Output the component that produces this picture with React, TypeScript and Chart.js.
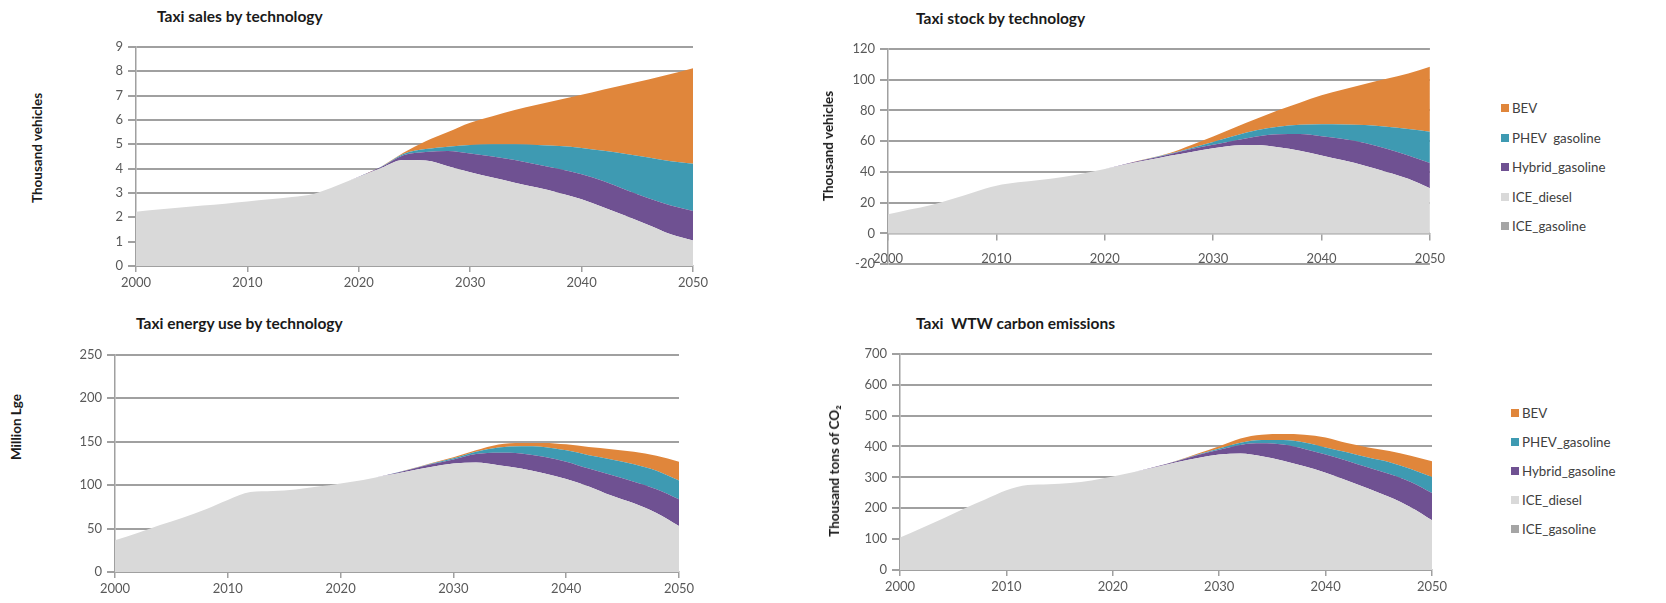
import React, { useEffect, useRef } from "react";
import { Chart, registerables } from "chart.js";

Chart.register(...registerables);

// ---------- data ----------
const years = [2000, 2002, 2004, 2006, 2008, 2010, 2012, 2014, 2016, 2018, 2020, 2022, 2024, 2026, 2028, 2030, 2032, 2034, 2036, 2038, 2040, 2042, 2044, 2046, 2048, 2050];
const xTickYears = [2000, 2010, 2020, 2030, 2040, 2050];

const seriesNames = ["ICE_gasoline", "ICE_diesel", "Hybrid_gasoline", "PHEV_gasoline", "BEV"];
const seriesColors = ["#a5a5a5", "#d9d9d9", "#6f5192", "#3e9ab2", "#e0863b"];

const iceGasoline = [0, 0, 0, 0, 0, 0, 0, 0, 0, 0, 0, 0, 0, 0, 0, 0, 0, 0, 0, 0, 0, 0, 0, 0, 0, 0];

// Taxi sales (thousand vehicles)
const salesIceDiesel = [2.23, 2.32, 2.4, 2.48, 2.56, 2.65, 2.74, 2.83, 2.97, 3.3, 3.65, 4.02, 4.35, 4.33, 4.1, 3.85, 3.63, 3.42, 3.22, 3.0, 2.74, 2.4, 2.05, 1.68, 1.3, 1.05];
const salesHybrid = [0, 0, 0, 0, 0, 0, 0, 0, 0, 0, 0.01, 0.04, 0.2, 0.35, 0.62, 0.77, 0.87, 0.93, 0.95, 0.98, 1.03, 1.08, 1.07, 1.1, 1.18, 1.21];
const salesPhev = [0, 0, 0, 0, 0, 0, 0, 0, 0, 0, 0, 0.01, 0.05, 0.12, 0.18, 0.35, 0.5, 0.65, 0.8, 0.95, 1.08, 1.25, 1.48, 1.67, 1.82, 1.94];
const salesBev = [0, 0, 0, 0, 0, 0, 0, 0, 0, 0, 0, 0.01, 0.05, 0.32, 0.6, 0.91, 1.15, 1.4, 1.65, 1.9, 2.18, 2.52, 2.85, 3.21, 3.58, 3.92];

// Taxi stock (thousand vehicles)
const stockIceDiesel = [12.4, 15.5, 18.5, 22.5, 27.0, 31.0, 33.2, 34.8, 36.5, 39.0, 41.8, 45.0, 47.7, 50.5, 53.0, 55.3, 57.2, 57.4, 56.0, 53.8, 50.7, 47.5, 44.0, 40.0, 35.5, 29.4];
const stockHybrid = [0, 0, 0, 0, 0, 0, 0, 0, 0, 0, 0, 0.3, 0.6, 1.0, 1.8, 2.3, 3.2, 5.6, 8.5, 10.8, 12.4, 13.9, 14.8, 15.0, 15.2, 16.4];
const stockPhev = [0, 0, 0, 0, 0, 0, 0, 0, 0, 0, 0, 0, 0.2, 0.3, 0.8, 1.9, 3.1, 4.0, 4.8, 6.0, 7.9, 9.4, 11.6, 14.3, 17.1, 20.3];
const stockBev = [0, 0, 0, 0, 0, 0, 0, 0, 0, 0, 0, 0, 0.2, 0.5, 1.9, 3.5, 5.3, 7.5, 10.7, 14.4, 18.8, 22.8, 26.8, 31.3, 36.2, 42.2];

// Taxi energy use (million Lge)
const energyIceDiesel = [36.6, 45, 54, 62.5, 72, 83, 92, 93.2, 95, 98.3, 102, 106, 111, 116, 121, 125, 126, 123, 119, 113.6, 107, 98.5, 88, 79, 68, 53];
const energyHybrid = [0, 0, 0, 0, 0, 0, 0, 0, 0, 0, 0, 0, 0.5, 1.5, 3, 4.6, 9.7, 14.2, 17.4, 19, 20, 20.5, 23.7, 25, 27.3, 30.8];
const energyPhev = [0, 0, 0, 0, 0, 0, 0, 0, 0, 0, 0, 0, 0, 0.3, 0.7, 1.4, 2.8, 6.1, 8.4, 11.4, 13, 15.5, 17.9, 20, 21.3, 21.4];
const energyBev = [0, 0, 0, 0, 0, 0, 0, 0, 0, 0, 0, 0, 0, 0.2, 0.6, 1.0, 1.5, 3.4, 3.8, 4.6, 7, 9.5, 11.8, 14.3, 17.2, 21.8];

// Taxi WTW carbon emissions (thousand tons CO2)
const co2IceDiesel = [105, 135, 166, 198, 228, 258, 275, 278, 282, 290, 303, 317, 333, 349, 363, 374, 377, 368, 354, 336, 315, 290, 264, 236, 203, 161];
const co2Hybrid = [0, 0, 0, 0, 0, 0, 0, 0, 0, 0, 0, 0, 1, 3, 9, 15, 28, 42, 52, 56, 59, 64, 68, 75, 82, 88];
const co2Phev = [0, 0, 0, 0, 0, 0, 0, 0, 0, 0, 0, 0, 0, 1, 2, 4, 7, 11, 15, 21, 23, 27, 32, 38, 42, 52];
const co2Bev = [0, 0, 0, 0, 0, 0, 0, 0, 0, 0, 0, 0, 0, 1, 3, 8, 14, 17, 19, 25, 32, 30, 33, 36, 43, 51];

// y tick labels
const salesYTicks = [0, 1, 2, 3, 4, 5, 6, 7, 8, 9];
const stockYTicks = [-20, 0, 20, 40, 60, 80, 100, 120];
const energyYTicks = [0, 50, 100, 150, 200, 250];
const co2YTicks = [0, 100, 200, 300, 400, 500, 600, 700];

// ---------- style / layout ----------
const FONT = "Lato, 'Open Sans', sans-serif";
const TICK_COLOR = "#595959";
const GRID_COLOR = "#a0a0a0";
const AXIS_COLOR = "#a0a0a0";
const Y_W = 60;
const PAD_T = 12;
const PAD_R = 26;
const X_H = 34;

type PanelCfg = {
  title: string;
  yTitle: string;
  series: number[][];
  yTicks: number[];
  plot: { l: number; t: number; r: number; b: number };
  xAtZero: boolean;
  titlePos: { x: number; y: number };
  yTitlePos: { x: number; y: number };
  legend?: { x: number; y: number; step: number; labels: string[] };
};

const panels: PanelCfg[] = [
  {
    title: "Taxi sales by technology",
    yTitle: "Thousand vehicles",
    series: [iceGasoline, salesIceDiesel, salesHybrid, salesPhev, salesBev],
    yTicks: salesYTicks,
    plot: { l: 136, t: 46, r: 693, b: 266 },
    xAtZero: false,
    titlePos: { x: 157, y: 16 },
    yTitlePos: { x: 37, y: 148 },
  },
  {
    title: "Taxi stock by technology",
    yTitle: "Thousand vehicles",
    series: [iceGasoline, stockIceDiesel, stockHybrid, stockPhev, stockBev],
    yTicks: stockYTicks,
    plot: { l: 888, t: 48, r: 1431, b: 267 },
    xAtZero: true,
    titlePos: { x: 916, y: 18 },
    yTitlePos: { x: 828, y: 146 },
    legend: { x: 1501, y: 108, step: 29.5, labels: ["BEV", "PHEV  gasoline", "Hybrid_gasoline", "ICE_diesel", "ICE_gasoline"] },
  },
  {
    title: "Taxi energy use by technology",
    yTitle: "Million Lge",
    series: [iceGasoline, energyIceDiesel, energyHybrid, energyPhev, energyBev],
    yTicks: energyYTicks,
    plot: { l: 115, t: 354, r: 679, b: 572 },
    xAtZero: false,
    titlePos: { x: 136, y: 323 },
    yTitlePos: { x: 16, y: 427 },
  },
  {
    title: "Taxi  WTW carbon emissions",
    yTitle: "Thousand tons of CO\u2082",
    series: [iceGasoline, co2IceDiesel, co2Hybrid, co2Phev, co2Bev],
    yTicks: co2YTicks,
    plot: { l: 900, t: 353, r: 1432, b: 570 },
    xAtZero: false,
    titlePos: { x: 916, y: 323 },
    yTitlePos: { x: 834, y: 471 },
    legend: { x: 1511, y: 413, step: 29, labels: ["BEV", "PHEV_gasoline", "Hybrid_gasoline", "ICE_diesel", "ICE_gasoline"] },
  },
];

function Panel({ cfg }: { cfg: PanelCfg }) {
  const ref = useRef<HTMLCanvasElement | null>(null);
  const { plot } = cfg;
  const padB = cfg.xAtZero ? 10 : 0;
  const xH = cfg.xAtZero ? 0 : X_H;
  const left = plot.l - Y_W;
  const top = plot.t - PAD_T;
  const width = plot.r - plot.l + Y_W + PAD_R;
  const height = plot.b - plot.t + PAD_T + xH + padB;

  useEffect(() => {
    if (!ref.current) return;
    const datasets = cfg.series.map((vals, i) => ({
      label: seriesNames[i],
      data: vals.map((v, j) => ({ x: years[j], y: v })),
      backgroundColor: seriesColors[i],
      borderColor: "transparent",
      borderWidth: 0,
      pointRadius: 0,
      fill: i === 0 ? "origin" : "-1",
      cubicInterpolationMode: "monotone" as const,
    }));
    const yMin = cfg.yTicks[0];
    const yMax = cfg.yTicks[cfg.yTicks.length - 1];
    const chart = new Chart(ref.current, {
      type: "line",
      data: { datasets },
      options: {
        responsive: false,
        animation: false,
        events: [],
        layout: { padding: { top: PAD_T, right: PAD_R, left: 0, bottom: padB } },
        plugins: { legend: { display: false }, tooltip: { enabled: false }, title: { display: false } },
        scales: {
          x: {
            type: "linear",
            min: 2000,
            max: 2050,
            position: cfg.xAtZero ? ({ y: 0 } as any) : "bottom",
            afterBuildTicks: (s: any) => {
              s.ticks = xTickYears.map((v) => ({ value: v }));
            },
            afterFit: (s: any) => {
              if (!cfg.xAtZero) s.height = X_H;
            },
            ticks: {
              color: TICK_COLOR,
              font: { family: FONT, size: 13 },
              padding: cfg.xAtZero ? 12 : 3,
              maxRotation: 0,
              autoSkip: false,
              callback: (v: any) => String(v),
            },
            grid: { drawOnChartArea: false, drawTicks: true, tickLength: 6, color: AXIS_COLOR, lineWidth: 1.5 },
            border: { display: true, color: AXIS_COLOR, width: 1.5 },
          },
          y: {
            stacked: true,
            min: yMin,
            max: yMax,
            afterBuildTicks: (s: any) => {
              s.ticks = cfg.yTicks.map((v) => ({ value: v }));
            },
            afterFit: (s: any) => {
              s.width = Y_W;
            },
            ticks: { color: TICK_COLOR, font: { family: FONT, size: 13 }, padding: 5 },
            grid: { color: GRID_COLOR, lineWidth: 2, tickLength: 8, drawTicks: true },
            border: { display: true, color: AXIS_COLOR, width: 1.5 },
          },
        },
      },
    });
    return () => chart.destroy();
  }, []);

  return (
    <>
      <canvas
        ref={ref}
        width={width}
        height={height}
        style={{ position: "absolute", left, top, width, height }}
      />
      <div
        style={{
          position: "absolute",
          left: cfg.titlePos.x,
          top: cfg.titlePos.y,
          transform: "translateY(-50%)",
          font: `bold 15.5px ${FONT}`,
          color: "#1a1a1a",
          whiteSpace: "pre",
        }}
      >
        {cfg.title}
      </div>
      <div
        style={{
          position: "absolute",
          left: cfg.yTitlePos.x,
          top: cfg.yTitlePos.y,
          transform: "translate(-50%, -50%) rotate(-90deg)",
          font: `bold 13.5px ${FONT}`,
          color: "#1a1a1a",
          whiteSpace: "nowrap",
        }}
      >
        {cfg.yTitle}
      </div>
      {cfg.legend &&
        cfg.legend.labels.map((lab, i) => {
          const colorIdx = seriesColors.length - 1 - i;
          return (
            <div
              key={lab}
              style={{
                position: "absolute",
                left: cfg.legend!.x,
                top: cfg.legend!.y + i * cfg.legend!.step,
                transform: "translateY(-50%)",
                display: "flex",
                alignItems: "center",
                font: `13.3px ${FONT}`,
                color: "#404040",
                whiteSpace: "pre",
              }}
            >
              <span style={{ display: "inline-block", width: 8, height: 8, background: seriesColors[colorIdx], marginRight: 3 }} />
              {lab}
            </div>
          );
        })}
    </>
  );
}

export default function App() {
  return (
    <div style={{ position: "absolute", left: 0, top: 0, width: 1666, height: 603, background: "#ffffff", overflow: "hidden" }}>
      {panels.map((p, i) => (
        <Panel key={i} cfg={p} />
      ))}
    </div>
  );
}
